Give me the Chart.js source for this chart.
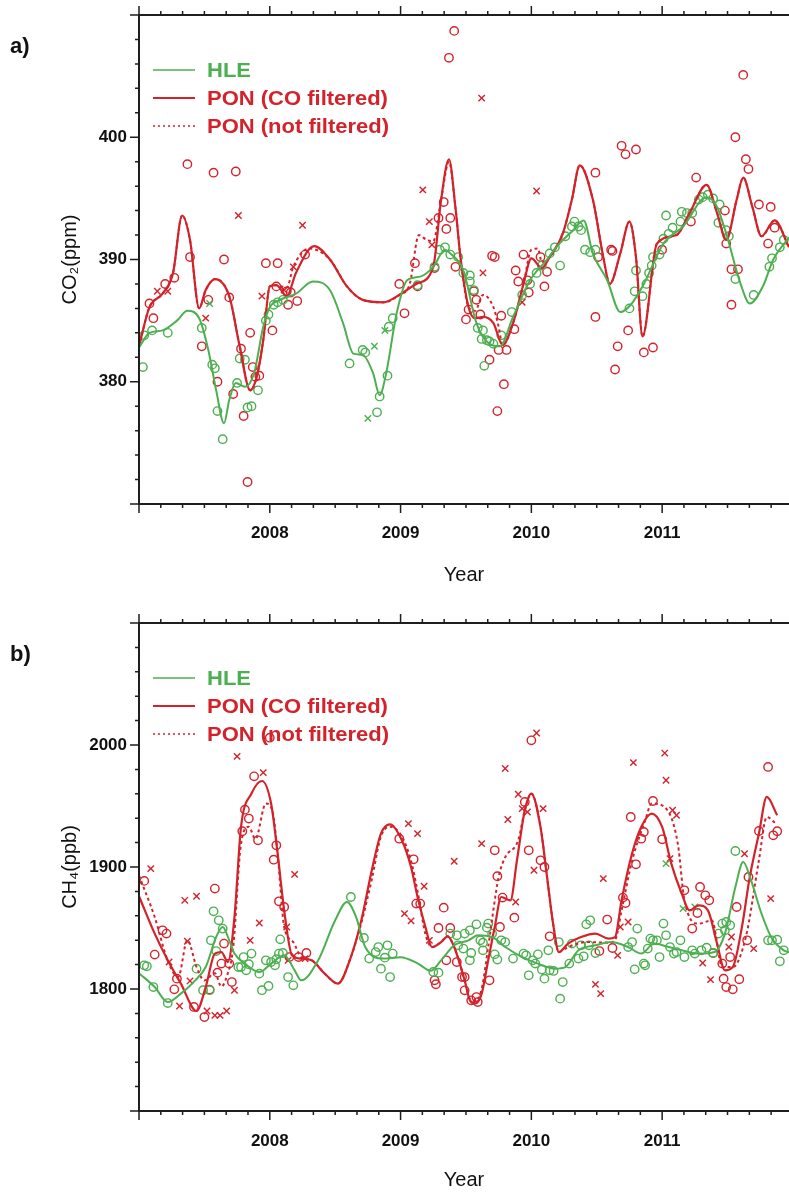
<!DOCTYPE html>
<html>
<head>
<meta charset="utf-8">
<script src="https://cdn.jsdelivr.net/npm/chart.js@4.4.0/dist/chart.umd.min.js"></script>
<style>
  body { margin: 0; background: #fff; overflow: hidden; }
  .panel { position: absolute; left: 0; }
</style>
</head>
<body>
<div class="panel" style="top:0"><canvas id="co2Chart" width="789" height="600"></canvas></div>
<div class="panel" style="top:600px"><canvas id="ch4Chart" width="789" height="593"></canvas></div>
<script>
// ticks
const yearTicks = [2008, 2009, 2010, 2011];
const co2Ticks = [380, 390, 400];
const ch4Ticks = [1800, 1900, 2000];
const legendNames = ['HLE', 'PON (CO filtered)', 'PON (not filtered)'];

// ---- a) CO2 (ppm) ----
const co2HleCurve = [[2007.00,382.8],[2007.08,384.0],[2007.18,384.2],[2007.29,385.0],[2007.37,385.8],[2007.46,385.2],[2007.53,382.6],[2007.59,379.3],[2007.65,376.6],[2007.69,378.5],[2007.74,379.9],[2007.81,379.6],[2007.88,380.7],[2007.95,384.5],[2008.00,386.1],[2008.08,386.7],[2008.20,387.2],[2008.33,388.2],[2008.46,387.5],[2008.56,384.8],[2008.64,382.3],[2008.71,382.2],[2008.79,380.7],[2008.84,378.9],[2008.89,380.7],[2008.97,385.6],[2009.05,388.3],[2009.15,388.6],[2009.25,389.4],[2009.34,390.8],[2009.38,390.5],[2009.48,389.1],[2009.58,384.8],[2009.68,383.1],[2009.76,382.9],[2009.86,385.3],[2009.99,388.3],[2010.12,390.0],[2010.19,391.0],[2010.32,392.4],[2010.40,393.2],[2010.47,390.5],[2010.58,388.3],[2010.68,385.7],[2010.76,386.3],[2010.86,388.0],[2011.01,391.3],[2011.16,392.7],[2011.34,395.1],[2011.42,394.3],[2011.49,392.1],[2011.60,388.0],[2011.67,386.4],[2011.77,387.8],[2011.85,390.0],[2011.97,391.8]];
const co2PonCurve = [[2007.00,382.9],[2007.08,386.1],[2007.18,387.2],[2007.26,388.9],[2007.33,393.6],[2007.39,391.6],[2007.46,386.0],[2007.51,387.5],[2007.58,388.4],[2007.69,387.0],[2007.77,382.9],[2007.85,379.3],[2007.90,380.4],[2007.95,383.4],[2008.00,387.8],[2008.05,387.9],[2008.13,387.0],[2008.20,388.9],[2008.34,391.1],[2008.46,390.0],[2008.59,387.8],[2008.71,386.7],[2008.87,386.5],[2008.99,387.1],[2009.12,388.0],[2009.25,389.4],[2009.31,394.9],[2009.37,398.2],[2009.42,394.2],[2009.46,390.0],[2009.52,386.1],[2009.57,385.2],[2009.63,385.3],[2009.71,384.8],[2009.78,383.0],[2009.86,384.8],[2009.94,388.0],[2010.00,390.1],[2010.08,389.3],[2010.14,390.2],[2010.24,392.1],[2010.31,394.9],[2010.37,397.7],[2010.47,394.9],[2010.55,390.2],[2010.60,388.0],[2010.68,390.5],[2010.75,393.1],[2010.80,390.2],[2010.85,383.7],[2010.96,391.3],[2011.11,392.0],[2011.21,393.8],[2011.34,396.1],[2011.42,393.8],[2011.49,391.6],[2011.57,394.9],[2011.62,396.7],[2011.69,394.3],[2011.76,391.9],[2011.86,393.2],[2011.97,391.0]];
const co2PonRawCurve = [[2007.00,382.9],[2007.08,386.1],[2007.18,387.2],[2007.26,388.9],[2007.33,393.6],[2007.39,391.6],[2007.46,386.0],[2007.51,387.5],[2007.58,388.4],[2007.69,387.0],[2007.77,382.9],[2007.85,379.3],[2007.90,380.4],[2007.95,383.4],[2008.00,387.8],[2008.05,387.9],[2008.13,387.7],[2008.18,389.4],[2008.30,390.9],[2008.46,390.0],[2008.59,387.8],[2008.71,386.7],[2008.87,386.5],[2008.99,387.1],[2009.07,388.0],[2009.14,392.0],[2009.20,391.6],[2009.25,391.5],[2009.31,394.9],[2009.37,398.0],[2009.42,394.2],[2009.46,390.0],[2009.52,386.1],[2009.57,385.8],[2009.63,387.1],[2009.71,386.1],[2009.75,384.5],[2009.78,383.0],[2009.86,384.8],[2009.94,388.0],[2010.00,390.8],[2010.05,390.9],[2010.08,389.8],[2010.14,390.2],[2010.24,392.1],[2010.31,394.9],[2010.37,397.7],[2010.47,394.9],[2010.55,390.2],[2010.60,388.0],[2010.68,390.5],[2010.75,393.1],[2010.80,390.2],[2010.85,383.7],[2010.96,391.3],[2011.11,392.0],[2011.21,393.8],[2011.34,396.1],[2011.42,393.8],[2011.49,391.6],[2011.57,394.9],[2011.62,396.7],[2011.69,394.3],[2011.76,391.9],[2011.86,393.2],[2011.97,391.0]];
const co2HleCircles = [[2007.03,381.2],[2007.04,383.8],[2007.10,384.2],[2007.22,384.0],[2007.48,384.4],[2007.56,381.4],[2007.58,381.1],[2007.60,377.6],[2007.64,375.3],[2007.75,379.9],[2007.77,381.9],[2007.81,381.8],[2007.83,377.9],[2007.86,378.0],[2007.91,379.3],[2007.97,385.0],[2007.99,385.5],[2008.03,386.3],[2008.06,386.5],[2008.10,386.7],[2008.61,381.5],[2008.71,382.6],[2008.73,382.4],[2008.82,377.5],[2008.84,378.8],[2008.90,380.5],[2008.91,384.5],[2008.94,385.2],[2009.13,387.9],[2009.26,389.4],[2009.30,390.8],[2009.34,391.0],[2009.38,390.4],[2009.44,390.2],[2009.48,388.9],[2009.53,388.7],[2009.53,388.2],[2009.56,387.5],[2009.59,384.4],[2009.62,383.5],[2009.63,384.2],[2009.66,383.4],[2009.68,383.3],[2009.71,383.1],[2009.64,381.3],[2009.77,383.8],[2009.85,385.7],[2009.93,387.1],[2009.99,388.0],[2010.04,388.9],[2010.08,389.5],[2010.14,390.5],[2010.22,389.5],[2010.18,391.0],[2010.26,391.9],[2010.31,392.7],[2010.33,393.1],[2010.36,392.7],[2010.38,392.4],[2010.41,390.8],[2010.45,390.6],[2010.49,390.8],[2010.75,386.0],[2010.79,387.4],[2010.80,389.1],[2010.85,387.0],[2010.88,388.0],[2010.90,388.9],[2010.92,389.5],[2010.93,390.2],[2010.98,390.4],[2011.01,391.7],[2011.05,392.1],[2011.08,392.6],[2011.14,393.1],[2011.03,393.6],[2011.15,393.9],[2011.19,393.8],[2011.23,393.8],[2011.28,394.9],[2011.31,395.1],[2011.35,395.3],[2011.39,395.0],[2011.44,394.5],[2011.43,393.0],[2011.49,392.4],[2011.51,391.9],[2011.56,388.4],[2011.70,387.1],[2011.82,389.4],[2011.84,390.1],[2011.90,391.0],[2011.93,391.6]];
const co2HleCrosses = [[2007.54,386.4],[2008.75,377.0],[2008.80,382.9],[2008.88,384.2]];
const co2PonCircles = [[2007.37,397.8],[2007.57,397.1],[2007.74,397.2],[2009.37,406.5],[2009.41,408.7],[2009.33,394.7],[2009.38,393.4],[2009.35,392.5],[2009.29,393.4],[2010.49,397.1],[2010.69,399.3],[2010.72,398.6],[2010.80,399.0],[2011.26,396.7],[2011.56,400.0],[2011.62,405.1],[2011.64,398.2],[2011.66,397.4],[2011.74,394.5],[2011.83,394.3],[2010.61,390.8],[2011.22,393.1],[2011.48,394.0],[2011.49,391.3],[2011.81,391.3],[2011.86,392.6],[2009.70,390.3],[2009.72,390.2],[2009.94,390.4],[2010.07,390.2],[2007.39,390.2],[2007.65,390.0],[2007.27,388.5],[2007.20,388.0],[2007.08,386.4],[2007.11,385.2],[2007.48,382.9],[2007.53,386.7],[2007.69,386.9],[2007.60,380.0],[2007.72,379.0],[2007.80,377.2],[2007.85,384.0],[2007.78,382.7],[2007.87,381.2],[2007.89,380.4],[2007.92,380.5],[2007.97,389.7],[2008.06,389.7],[2008.02,384.2],[2008.05,387.8],[2008.13,387.4],[2008.16,387.3],[2008.14,386.3],[2008.21,386.6],[2008.27,390.4],[2008.99,388.0],[2009.03,385.6],[2009.11,389.7],[2009.13,387.8],[2009.26,389.3],[2009.42,389.4],[2007.83,371.8],[2009.88,389.1],[2009.90,388.2],[2009.97,388.3],[2009.98,387.3],[2010.12,389.0],[2010.10,387.8],[2009.56,387.4],[2009.58,386.7],[2009.52,385.9],[2009.50,385.1],[2009.61,385.5],[2009.77,385.4],[2009.87,384.3],[2009.75,382.6],[2009.81,382.6],[2009.68,381.8],[2009.79,379.8],[2009.74,377.6],[2010.62,390.7],[2010.51,390.2],[2010.49,385.3],[2010.74,384.2],[2010.66,382.9],[2010.64,381.0],[2010.86,382.4],[2010.93,382.8],[2011.00,390.8],[2011.53,389.2],[2011.58,389.2],[2011.53,386.3]];
const co2PonCrosses = [[2007.14,387.4],[2007.22,387.4],[2007.51,385.2],[2007.76,393.6],[2007.94,387.0],[2008.18,389.4],[2008.11,387.5],[2008.25,392.8],[2009.17,395.7],[2009.22,393.1],[2009.24,391.2],[2009.62,403.2],[2010.04,395.6],[2009.63,388.9],[2009.93,386.5]];

// ---- b) CH4 (ppb) ----
const ch4HleCurve = [[2007.00,1813],[2007.12,1801.6],[2007.22,1789.3],[2007.32,1796.2],[2007.43,1807.1],[2007.51,1818],[2007.59,1842.6],[2007.64,1850.8],[2007.69,1839.9],[2007.73,1829],[2007.81,1820.8],[2007.92,1813.9],[2008.01,1820.8],[2008.11,1827.6],[2008.19,1815.3],[2008.24,1807.1],[2008.37,1823.5],[2008.50,1856.3],[2008.59,1871.3],[2008.66,1859],[2008.73,1834.4],[2008.87,1825],[2009.00,1826],[2009.13,1821],[2009.23,1815],[2009.31,1823.5],[2009.41,1835.8],[2009.52,1839.9],[2009.59,1844],[2009.70,1842.6],[2009.80,1834.4],[2009.93,1826.2],[2010.05,1820.8],[2010.18,1816.7],[2010.26,1818],[2010.36,1831.7],[2010.49,1835.8],[2010.61,1838.5],[2010.74,1834.4],[2010.84,1829],[2010.94,1837.2],[2011.05,1834.4],[2011.15,1831.7],[2011.28,1829],[2011.40,1830.3],[2011.48,1845.4],[2011.56,1883.6],[2011.62,1904.1],[2011.68,1889],[2011.76,1861.7],[2011.84,1841.3],[2011.93,1831.7],[2011.97,1830]];
const ch4PonCurve = [[2007.00,1876],[2007.12,1845.4],[2007.22,1823.5],[2007.32,1804.4],[2007.44,1782],[2007.51,1801.6],[2007.58,1829],[2007.63,1830.3],[2007.68,1822.1],[2007.73,1859],[2007.78,1932.8],[2007.86,1960.2],[2007.94,1970.5],[2008.01,1952],[2008.06,1911],[2008.11,1864.5],[2008.17,1827.6],[2008.24,1824.9],[2008.32,1823.5],[2008.42,1812.6],[2008.52,1804.4],[2008.62,1826.2],[2008.70,1856.3],[2008.78,1897.3],[2008.85,1927.4],[2008.92,1935.0],[2009.01,1921.9],[2009.08,1900],[2009.13,1875.4],[2009.19,1850.8],[2009.24,1834.4],[2009.31,1838.5],[2009.36,1843.2],[2009.41,1834.4],[2009.49,1807.1],[2009.53,1790.7],[2009.57,1788],[2009.62,1796.2],[2009.67,1823.5],[2009.72,1850.8],[2009.77,1875.4],[2009.84,1872.7],[2009.89,1905.5],[2009.95,1946.5],[2010.00,1960.2],[2010.07,1932.8],[2010.12,1891.8],[2010.17,1850.8],[2010.21,1830.3],[2010.28,1837.2],[2010.38,1842.6],[2010.49,1845.4],[2010.59,1841.3],[2010.64,1842.6],[2010.69,1872.7],[2010.77,1911],[2010.84,1932.8],[2010.92,1943.8],[2011.00,1932.8],[2011.07,1902.8],[2011.15,1878.2],[2011.21,1864.5],[2011.28,1868.6],[2011.35,1864.5],[2011.42,1837.2],[2011.48,1815.3],[2011.54,1818],[2011.61,1850.8],[2011.67,1891.8],[2011.74,1927.4],[2011.80,1957.4],[2011.88,1942.4]];
const ch4PonRawCurve = [[2007.00,1893],[2007.12,1859],[2007.22,1823],[2007.30,1810],[2007.37,1840],[2007.44,1818],[2007.50,1807],[2007.58,1813],[2007.63,1802],[2007.67,1810],[2007.72,1834],[2007.78,1919],[2007.84,1933],[2007.89,1923],[2007.97,1952],[2008.02,1946],[2008.06,1911],[2008.11,1851],[2008.18,1838.5],[2008.24,1826],[2008.32,1823.5],[2008.42,1812.6],[2008.52,1804.4],[2008.62,1826.2],[2008.70,1854],[2008.78,1890],[2008.85,1925],[2008.92,1933],[2009.01,1925],[2009.08,1905],[2009.13,1880],[2009.19,1845],[2009.24,1834.4],[2009.31,1838.5],[2009.36,1843.2],[2009.41,1834.4],[2009.49,1807.1],[2009.53,1792],[2009.57,1790],[2009.62,1800],[2009.67,1834.4],[2009.75,1891.8],[2009.80,1908],[2009.90,1922],[2009.95,1946.5],[2010.00,1960.2],[2010.07,1932.8],[2010.12,1891.8],[2010.17,1850.8],[2010.21,1830.3],[2010.28,1834.4],[2010.43,1838.5],[2010.59,1838],[2010.64,1840],[2010.69,1864.5],[2010.77,1905],[2010.87,1938],[2010.92,1952],[2011.02,1949],[2011.12,1919],[2011.17,1873],[2011.28,1853.6],[2011.38,1856.3],[2011.46,1818],[2011.54,1818],[2011.64,1842.6],[2011.74,1905.5],[2011.80,1941],[2011.87,1935.5]];
const ch4HleCircles = [[2007.04,1819.4],[2007.06,1818.6],[2007.11,1801.6],[2007.22,1788.5],[2007.44,1816.7],[2007.49,1799],[2007.54,1799],[2007.55,1839.9],[2007.57,1863.7],[2007.61,1856.3],[2007.64,1849.5],[2007.59,1831.1],[2007.76,1818],[2007.78,1818],[2007.82,1815.3],[2007.84,1820.3],[2007.80,1826.2],[2007.86,1829],[2007.92,1812.6],[2007.94,1799],[2007.99,1802.5],[2007.97,1823.5],[2008.01,1822.1],[2008.04,1819.4],[2008.05,1824.4],[2008.07,1829],[2008.10,1829.5],[2008.08,1840.7],[2008.14,1809.8],[2008.18,1803],[2008.62,1875.4],[2008.72,1841.8],[2008.76,1824.9],[2008.81,1830.3],[2008.83,1834.4],[2008.85,1816.7],[2008.90,1835.8],[2008.94,1829],[2008.88,1825.7],[2008.92,1809.8],[2009.25,1814],[2009.29,1813.4],[2009.38,1845.4],[2009.43,1844],[2009.44,1835.8],[2009.48,1833.1],[2009.49,1845.4],[2009.53,1848.1],[2009.58,1853],[2009.54,1829.5],[2009.53,1823.5],[2009.61,1839.9],[2009.63,1838],[2009.63,1831.7],[2009.66,1850.3],[2009.67,1853.6],[2009.70,1845.4],[2009.72,1828.4],[2009.74,1824.1],[2009.77,1839.9],[2009.80,1838.5],[2009.86,1824.9],[2009.94,1829],[2009.96,1827.6],[2009.98,1811.2],[2010.01,1823.5],[2010.03,1820.8],[2010.08,1815.9],[2010.05,1828.4],[2010.10,1808.5],[2010.14,1815.3],[2010.17,1814.8],[2010.13,1831.7],[2010.21,1838.5],[2010.24,1805.7],[2010.22,1792.1],[2010.29,1820.8],[2010.31,1837.2],[2010.36,1824.9],[2010.40,1826.8],[2010.38,1835.8],[2010.42,1853],[2010.45,1856.3],[2010.44,1835.8],[2010.49,1829.5],[2010.74,1834.4],[2010.77,1838.5],[2010.79,1816.1],[2010.86,1820.8],[2010.87,1819.4],[2010.81,1849.5],[2010.91,1841.3],[2010.93,1839.9],[2010.96,1839.9],[2010.89,1833.1],[2010.98,1826.2],[2011.01,1853.6],[2011.03,1844],[2011.06,1834.4],[2011.09,1829],[2011.11,1830.3],[2011.14,1839.9],[2011.17,1826.2],[2011.23,1831.7],[2011.25,1829],[2011.30,1831.7],[2011.34,1833.9],[2011.39,1829.5],[2011.43,1845.4],[2011.46,1853.6],[2011.49,1854.9],[2011.52,1852.2],[2011.48,1848.1],[2011.56,1913.1],[2011.81,1839.9],[2011.84,1839.9],[2011.88,1840.4],[2011.90,1822.7],[2011.93,1831.7]];
const ch4HleCrosses = [[2011.03,1902.8],[2011.16,1865.9],[2011.25,1867.2]];
const ch4PonCircles = [[2007.88,1974.3],[2007.81,1947],[2007.84,1939.7],[2007.79,1929.3],[2007.91,1921.9],[2008.05,1917.8],[2008.03,1906],[2008.07,1871.9],[2008.11,1867.2],[2007.58,1882.3],[2007.04,1888.6],[2007.18,1848.1],[2007.21,1845.4],[2007.12,1828.2],[2007.29,1808.5],[2007.27,1799.7],[2007.42,1785.3],[2007.50,1777],[2007.54,1799.5],[2007.60,1813.4],[2007.63,1820.8],[2007.65,1837.2],[2007.71,1805.7],[2007.69,1820.8],[2008.15,1826.2],[2008.22,1826.2],[2008.28,1829.5],[2008.99,1923.2],[2009.10,1906.3],[2009.12,1870],[2009.15,1870],[2009.33,1866.7],[2009.29,1850],[2009.38,1850],[2009.35,1823.5],[2009.26,1807.1],[2009.27,1803.9],[2009.43,1822.1],[2009.49,1809.8],[2009.72,1913.7],[2009.74,1892.4],[2009.78,1874.9],[2009.87,1858.5],[2009.76,1850.8],[2009.68,1807.1],[2009.49,1798.9],[2009.54,1790.7],[2009.58,1793.4],[2009.59,1789.3],[2009.47,1809.8],[2009.95,1953.3],[2009.98,1913.7],[2010.07,1905.5],[2010.10,1900],[2010.14,1843.2],[2010.58,1856.9],[2010.52,1831.1],[2010.62,1833.6],[2010.70,1874.9],[2010.72,1870.5],[2010.80,1902.2],[2010.76,1941],[2010.84,1923.2],[2010.86,1928.7],[2010.93,1954.1],[2011.00,1922.7],[2011.17,1880.9],[2011.23,1849.5],[2011.27,1862.3],[2011.29,1883.6],[2011.33,1876.8],[2011.36,1872.7],[2011.39,1829.5],[2011.46,1820.8],[2011.47,1808.5],[2011.49,1801.6],[2011.54,1799.7],[2011.59,1808],[2011.52,1826.2],[2011.57,1867.2],[2011.65,1839.9],[2011.66,1891.8],[2011.74,1929.5],[2011.85,1926],[2011.88,1929.3],[2011.81,1982],[2010.00,2003.8],[2008.00,2006]];
const ch4PonCrosses = [[2007.09,1898.7],[2007.35,1872.7],[2007.44,1876],[2007.37,1839.1],[2007.39,1806.6],[2007.31,1786.1],[2007.52,1782],[2007.58,1778.4],[2007.62,1778.4],[2007.67,1782],[2007.73,1799],[2007.23,1822.1],[2007.95,1977.4],[2007.75,1990.7],[2007.92,1854.1],[2007.85,1839.9],[2008.19,1894],[2008.13,1850.8],[2008.14,1823.5],[2008.27,1824.9],[2009.06,1935.6],[2009.13,1927.4],[2009.18,1884.2],[2009.03,1861.8],[2009.08,1855.8],[2009.41,1904.7],[2009.22,1839.9],[2009.80,1980.7],[2009.62,1919.2],[2009.82,1938.9],[2009.90,1959.6],[2009.93,1947.9],[2009.97,1945.1],[2010.09,1947.9],[2010.02,1897.3],[2009.88,1871.3],[2010.04,2009.8],[2010.68,1850.8],[2010.74,1854.9],[2010.66,1827.6],[2010.55,1890.5],[2010.49,1803.8],[2010.53,1796.2],[2010.78,1985.6],[2011.02,1993.4],[2011.03,1971.1],[2011.08,1946.5],[2011.11,1942.4],[2011.06,1906.9],[2011.31,1821.3],[2011.37,1807.7],[2011.51,1834.4],[2011.53,1842.6],[2011.63,1910.9],[2011.70,1833.1],[2011.83,1874.1]];

const GREEN = '#4caf50';
const RED = '#d3222a';
const FONT = 'Liberation Sans, Arial, sans-serif';

// Frame with major/minor ticks on left, top and bottom
const axisFrame = {
    id: 'axisFrame',
    afterDatasetsDraw(chart, args, o) {
        const { ctx, chartArea: a, scales: { x, y } } = chart;
        ctx.save();
        ctx.strokeStyle = '#1e1e1e';
        ctx.lineWidth = 2;
        ctx.beginPath();
        ctx.moveTo(a.right, a.top); ctx.lineTo(a.left, a.top);
        ctx.lineTo(a.left, a.bottom); ctx.lineTo(a.right, a.bottom);
        ctx.stroke();

        ctx.lineWidth = 1.5;
        ctx.beginPath();
        for (let i = 0; i <= 30; i++) {
            const v = 2007 + i / 6;
            if (v > x.max) break;
            const px = x.getPixelForValue(v);
            const len = i % 6 === 0 ? 9 : 4;
            ctx.moveTo(px, a.top); ctx.lineTo(px, a.top - len);
            ctx.moveTo(px, a.bottom); ctx.lineTo(px, a.bottom + len);
        }
        const n = Math.round((y.max - y.min) / o.yMinor);
        for (let i = 0; i <= n; i++) {
            const py = y.getPixelForValue(y.min + i * o.yMinor);
            const len = i % 5 === 0 ? 9 : 4;
            ctx.moveTo(a.left, py); ctx.lineTo(a.left - len, py);
        }
        ctx.stroke();

        // panel letter
        ctx.fillStyle = '#111';
        ctx.font = 'bold 22px ' + FONT;
        ctx.textBaseline = 'middle';
        ctx.fillText(o.panel, 10, a.top + 32);
        ctx.restore();
    }
};

// Legend drawn inside the plot area
const insideLegend = {
    id: 'insideLegend',
    afterDatasetsDraw(chart, args, o) {
        const { ctx, chartArea: a } = chart;
        const styles = [
            { color: GREEN, dash: [], width: 1.5 },
            { color: RED, dash: [], width: 2 },
            { color: RED, dash: [2, 3], width: 1.5 }
        ];
        ctx.save();
        legendNames.forEach(function (name, i) {
            const s = styles[i];
            const yy = a.top + 55 + i * 28;
            ctx.strokeStyle = s.color;
            ctx.lineWidth = s.width;
            ctx.setLineDash(s.dash);
            ctx.beginPath();
            ctx.moveTo(a.left + 14, yy); ctx.lineTo(a.left + 56, yy);
            ctx.stroke();
            ctx.setLineDash([]);
            ctx.save();
            ctx.translate(a.left + 68, yy);
            ctx.scale(1.1, 1);
            ctx.fillStyle = s.color;
            ctx.font = 'bold 20px ' + FONT;
            ctx.textBaseline = 'middle';
            ctx.fillText(name, 0, 1);
            ctx.restore();
        });
        ctx.restore();
    }
};

function curve(data, color, dash, width) {
    return {
        data: data, showLine: true, borderColor: color, borderWidth: width,
        borderDash: dash, pointRadius: 0, cubicInterpolationMode: 'monotone',
        fill: false, order: 0
    };
}

function marks(data, color, style) {
    return {
        data: data, showLine: false, pointStyle: style,
        pointRadius: style === 'circle' ? 4.2 : 4.5,
        pointBorderColor: color, pointBackgroundColor: 'rgba(0,0,0,0)',
        pointBorderWidth: 1.4, order: 1
    };
}

function buildPanel(canvasId, cfg) {
    new Chart(document.getElementById(canvasId), {
        type: 'scatter',
        data: {
            datasets: [
                marks(cfg.hleCircles, GREEN, 'circle'),
                marks(cfg.hleCrosses, GREEN, 'crossRot'),
                marks(cfg.ponCircles, RED, 'circle'),
                marks(cfg.ponCrosses, RED, 'crossRot'),
                curve(cfg.hle, GREEN, [], 2),
                curve(cfg.ponRaw, RED, [3, 3], 2),
                curve(cfg.pon, RED, [], 2.2)
            ]
        },
        options: {
            responsive: false,
            animation: false,
            devicePixelRatio: 1,
            layout: { autoPadding: false, padding: { top: cfg.padTop, left: 0, right: 0, bottom: 0 } },
            plugins: {
                legend: { display: false },
                tooltip: { enabled: false },
                axisFrame: { panel: cfg.panel, yMinor: cfg.yMinor }
            },
            scales: {
                x: {
                    type: 'linear',
                    min: 2007, max: 2011.97,
                    grid: { display: false },
                    border: { display: false },
                    ticks: {
                        stepSize: 1, autoSkip: false, maxRotation: 0,
                        padding: cfg.xPad, color: '#111',
                        font: { family: FONT, size: 17, weight: 'bold' },
                        callback: (v) => yearTicks.includes(v) ? String(v) : ''
                    },
                    title: {
                        display: true, text: 'Year', color: '#111',
                        font: { family: FONT, size: 20 },
                        padding: { top: 0, bottom: cfg.titlePad }
                    },
                    afterFit: (s) => {
                        s.height = cfg.xHeight;
                        s.paddingLeft = 0; s.paddingRight = 0;
                    }
                },
                y: {
                    min: cfg.yMin, max: cfg.yMax,
                    grid: { display: false },
                    border: { display: false },
                    ticks: {
                        stepSize: 10 * cfg.yMinor / 2, autoSkip: false, padding: 4, color: '#111',
                        font: { family: FONT, size: 17, weight: 'bold' },
                        callback: (v) => cfg.yTicks.includes(v) ? String(v) : ''
                    },
                    title: {
                        display: true, text: cfg.yTitle, color: '#111',
                        font: { family: FONT, size: 20 },
                        padding: { top: 58, bottom: 0 }
                    },
                    afterFit: (s) => {
                        s.width = 139;
                        s.paddingTop = 0; s.paddingBottom = 0;
                    }
                }
            }
        },
        plugins: [axisFrame, insideLegend]
    });
}

buildPanel('co2Chart', {
    panel: 'a)', yTitle: 'CO\u2082(ppm)', yMin: 370, yMax: 410, yMinor: 2, yTicks: co2Ticks,
    padTop: 15, xHeight: 96, xPad: 11, titlePad: 13,
    hle: co2HleCurve, pon: co2PonCurve, ponRaw: co2PonRawCurve,
    hleCircles: co2HleCircles, hleCrosses: co2HleCrosses,
    ponCircles: co2PonCircles, ponCrosses: co2PonCrosses
});

buildPanel('ch4Chart', {
    panel: 'b)', yTitle: 'CH\u2084(ppb)', yMin: 1700, yMax: 2100, yMinor: 20, yTicks: ch4Ticks,
    padTop: 23, xHeight: 82, xPad: 12, titlePad: 1,
    hle: ch4HleCurve, pon: ch4PonCurve, ponRaw: ch4PonRawCurve,
    hleCircles: ch4HleCircles, hleCrosses: ch4HleCrosses,
    ponCircles: ch4PonCircles, ponCrosses: ch4PonCrosses
});
</script>
</body>
</html>
